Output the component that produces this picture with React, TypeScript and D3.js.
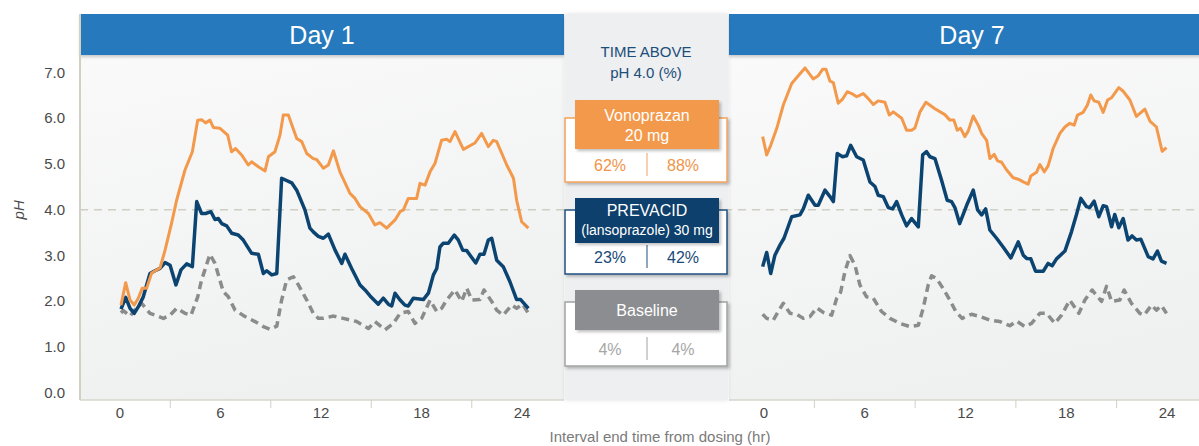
import * as d3 from 'd3'

const W = 1199, H = 446

// [hour, pH]
const day1Vonoprazan: [number, number][] = [
  [0.06, 1.92], [0.34, 2.41], [0.6, 2.03], [0.85, 1.92], [1.09, 2.07], [1.33, 2.29], [1.59, 2.29],
  [1.89, 2.62], [2.39, 2.73], [2.69, 3.12], [3.08, 3.71], [3.38, 4.21], [3.88, 4.87], [4.32, 5.27],
  [4.64, 5.96], [4.87, 5.97], [5.11, 5.9], [5.37, 5.96], [5.57, 5.8], [5.97, 5.78], [6.43, 5.63],
  [6.66, 5.27], [6.9, 5.34], [7.26, 5.2], [7.66, 4.98], [7.86, 5.05], [8.26, 4.94], [8.66, 4.85],
  [8.86, 5.16], [9.25, 5.27], [9.55, 5.63], [9.75, 6.07], [10.05, 6.07], [10.55, 5.56], [10.85, 5.49],
  [11.15, 5.23], [11.54, 5.12], [11.74, 5.1], [12.14, 4.91], [12.44, 4.98], [12.74, 5.29], [13.13, 4.83],
  [13.73, 4.36], [14.03, 4.25], [14.33, 4.07], [14.83, 3.92], [15.22, 3.67], [15.52, 3.72], [15.92, 3.6],
  [16.42, 3.78], [16.72, 3.96], [16.92, 4.0], [17.21, 4.25], [17.71, 4.25], [17.91, 4.58], [18.21, 4.54],
  [18.51, 4.83], [18.81, 5.02], [19.2, 5.52], [19.5, 5.54], [19.7, 5.49], [20.0, 5.71], [20.5, 5.32],
  [21.19, 5.46], [21.59, 5.67], [21.99, 5.38], [22.29, 5.52], [22.49, 5.49], [23.09, 4.98], [23.49, 4.69],
  [23.68, 4.21], [23.98, 3.74], [24.38, 3.6],
]

const day1Prevacid: [number, number][] = [
  [0.06, 1.83], [0.34, 2.09], [0.6, 1.85], [0.85, 1.74], [1.09, 1.88], [1.39, 2.1], [1.79, 2.61],
  [2.09, 2.67], [2.39, 2.72], [2.69, 2.85], [2.99, 2.79], [3.34, 2.36], [3.64, 2.69], [3.98, 2.82],
  [4.32, 2.76], [4.58, 4.18], [4.87, 3.92], [5.11, 3.92], [5.43, 3.96], [5.67, 3.79], [5.87, 3.81],
  [6.07, 3.7], [6.37, 3.65], [6.67, 3.49], [7.06, 3.45], [7.36, 3.34], [7.86, 3.05], [8.26, 3.03],
  [8.56, 2.61], [8.76, 2.67], [9.06, 2.58], [9.36, 2.61], [9.65, 4.69], [10.25, 4.59], [10.55, 4.43],
  [11.04, 4.0], [11.34, 3.6], [11.54, 3.52], [11.84, 3.42], [12.14, 3.38], [12.44, 3.47], [12.84, 3.12],
  [13.24, 2.83], [13.43, 3.03], [13.83, 2.72], [14.33, 2.36], [14.63, 2.25], [14.93, 2.12], [15.42, 1.94],
  [15.72, 2.07], [16.02, 1.94], [16.22, 1.9], [16.42, 2.18], [16.72, 2.03], [17.01, 1.92], [17.21, 1.9],
  [17.51, 2.07], [18.11, 2.04], [18.41, 2.18], [18.71, 2.58], [18.91, 2.72], [19.1, 3.19], [19.3, 3.27],
  [19.6, 3.27], [19.96, 3.45], [20.2, 3.34], [20.46, 3.12], [20.7, 3.11], [20.9, 3.01], [21.24, 2.84],
  [21.49, 3.03], [21.73, 3.03], [21.99, 3.34], [22.19, 3.38], [22.49, 2.9], [22.88, 2.76], [23.28, 2.43],
  [23.68, 2.04], [23.92, 2.04], [24.38, 1.85],
]

const day1Baseline: [number, number][] = [
  [0.06, 1.75], [0.2, 1.8], [0.6, 1.68], [0.85, 1.8], [1.29, 1.96], [1.79, 1.74], [2.09, 1.7],
  [2.59, 1.63], [2.99, 1.7], [3.38, 1.85], [3.88, 1.74], [4.24, 1.7], [4.64, 2.1], [4.87, 2.47],
  [5.07, 2.69], [5.37, 3.03], [5.67, 2.83], [6.17, 2.21], [6.47, 2.1], [6.87, 1.81], [7.46, 1.67],
  [8.06, 1.56], [8.56, 1.45], [8.96, 1.39], [9.36, 1.46], [9.65, 2.03], [9.95, 2.47], [10.35, 2.54],
  [10.65, 2.36], [11.15, 2.03], [11.54, 1.74], [11.84, 1.63], [12.14, 1.63], [12.74, 1.68], [13.33, 1.63],
  [14.13, 1.56], [14.83, 1.41], [15.22, 1.56], [15.82, 1.38], [16.32, 1.52], [16.72, 1.74], [17.21, 1.78],
  [17.61, 1.52], [18.01, 1.63], [18.51, 2.03], [18.91, 1.78], [19.2, 1.85], [19.5, 2.03], [20.0, 2.25],
  [20.4, 2.0], [20.7, 2.29], [21.0, 2.03], [21.49, 2.04], [21.73, 2.25], [22.19, 2.0], [22.49, 1.81],
  [22.88, 1.7], [23.38, 1.92], [23.68, 1.85], [24.04, 1.94], [24.38, 1.74],
]

const day7Vonoprazan: [number, number][] = [
  [-0.08, 5.6], [0.16, 5.2], [0.4, 5.41], [0.76, 5.78], [1.15, 6.29], [1.65, 6.76], [2.04, 6.93],
  [2.44, 7.1], [2.93, 6.86], [3.23, 6.93], [3.49, 7.07], [3.69, 7.07], [3.93, 6.81], [4.13, 6.78],
  [4.42, 6.33], [4.68, 6.42], [4.96, 6.58], [5.22, 6.54], [5.52, 6.47], [5.91, 6.54], [6.21, 6.43],
  [6.51, 6.3], [6.8, 6.38], [7.2, 6.35], [7.46, 6.07], [7.7, 6.14], [8.2, 6.0], [8.49, 5.74],
  [8.79, 5.74], [8.99, 5.79], [9.29, 6.14], [9.64, 6.35], [10.18, 6.21], [10.77, 6.08], [11.07, 5.96],
  [11.31, 5.96], [11.51, 5.74], [11.71, 5.78], [11.96, 5.6], [12.16, 5.72], [12.46, 6.05], [12.76, 5.85],
  [12.96, 5.67], [13.26, 5.52], [13.45, 5.12], [13.71, 5.21], [13.91, 5.07], [14.15, 5.04], [14.45, 4.87],
  [14.84, 4.7], [15.14, 4.67], [15.44, 4.61], [15.73, 4.56], [15.89, 4.74], [16.23, 4.82], [16.43, 4.99],
  [16.69, 4.83], [16.92, 4.96], [17.22, 5.34], [17.62, 5.67], [17.92, 5.81], [18.21, 5.89], [18.47, 5.85],
  [18.67, 6.07], [19.01, 6.13], [19.26, 6.29], [19.46, 6.51], [19.66, 6.38], [19.94, 6.35], [20.2, 6.13],
  [20.46, 6.4], [20.7, 6.45], [21.13, 6.67], [21.39, 6.59], [21.79, 6.4], [22.18, 6.04], [22.68, 6.2],
  [22.98, 5.94], [23.37, 5.81], [23.71, 5.28], [23.97, 5.36],
]

const day7Prevacid: [number, number][] = [
  [-0.08, 2.76], [0.16, 3.07], [0.4, 2.61], [0.65, 3.01], [0.95, 3.23], [1.19, 3.38], [1.65, 3.85],
  [2.14, 3.89], [2.34, 4.02], [2.64, 4.32], [3.04, 4.1], [3.23, 4.1], [3.63, 4.43], [3.93, 4.29],
  [4.13, 4.18], [4.36, 5.23], [4.68, 5.16], [4.92, 5.18], [5.16, 5.41], [5.52, 5.16], [5.91, 5.09],
  [6.31, 4.61], [6.61, 4.51], [6.8, 4.32], [7.1, 4.29], [7.4, 4.05], [7.66, 4.02], [7.9, 4.18],
  [8.2, 3.89], [8.49, 3.65], [8.79, 3.81], [9.19, 3.63], [9.45, 5.2], [9.68, 5.27], [9.88, 5.16],
  [10.18, 5.12], [10.57, 4.65], [10.91, 4.21], [11.17, 4.18], [11.37, 4.05], [11.65, 3.7], [12.07, 4.1],
  [12.46, 4.43], [12.72, 4.0], [12.96, 3.89], [13.2, 4.02], [13.45, 3.56], [13.85, 3.38], [14.24, 3.19],
  [14.7, 2.95], [15.14, 3.3], [15.44, 3.01], [15.64, 2.94], [15.89, 2.93], [16.17, 2.66], [16.63, 2.66],
  [16.92, 2.83], [17.16, 2.78], [17.42, 2.93], [17.92, 3.1], [18.31, 3.52], [18.61, 3.9], [18.87, 4.25],
  [19.21, 4.07], [19.4, 4.05], [19.66, 4.19], [19.94, 3.85], [20.2, 4.09], [20.4, 4.07], [20.7, 3.63],
  [20.89, 3.9], [21.13, 3.61], [21.39, 3.81], [21.68, 3.34], [21.92, 3.43], [22.18, 3.34], [22.44, 3.36],
  [22.88, 2.98], [23.17, 2.93], [23.43, 3.1], [23.67, 2.88], [23.97, 2.83],
]

const day7Baseline: [number, number][] = [
  [-0.08, 1.72], [0.16, 1.63], [0.55, 1.59], [0.85, 1.78], [1.15, 1.96], [1.55, 1.74], [1.95, 1.72],
  [2.34, 1.63], [2.74, 1.67], [3.14, 1.86], [3.53, 1.76], [4.03, 1.7], [4.33, 2.07], [4.56, 2.2],
  [4.82, 2.65], [5.12, 3.0], [5.42, 2.79], [5.71, 2.36], [6.11, 2.1], [6.51, 2.07], [7.0, 1.78],
  [7.5, 1.63], [8.1, 1.52], [8.69, 1.45], [9.19, 1.48], [9.48, 1.85], [9.78, 2.36], [9.98, 2.56],
  [10.28, 2.5], [10.67, 2.28], [11.07, 2.03], [11.42, 1.78], [11.8, 1.63], [12.36, 1.72], [12.86, 1.67],
  [13.45, 1.59], [14.05, 1.56], [14.64, 1.47], [15.04, 1.57], [15.54, 1.45], [15.93, 1.52], [16.43, 1.74],
  [16.83, 1.74], [17.32, 1.52], [17.72, 1.7], [18.21, 2.03], [18.75, 1.74], [19.11, 2.03], [19.54, 2.25],
  [20.1, 2.0], [20.4, 2.33], [20.7, 2.0], [21.19, 2.03], [21.45, 2.25], [21.88, 1.96], [22.38, 1.74],
  [22.64, 1.7], [23.08, 1.92], [23.37, 1.81], [23.67, 1.91], [23.97, 1.74],
]

const yTicks = [0, 1, 2, 3, 4, 5, 6, 7]
const xLabelTicks = [0, 6, 12, 18, 24]
const xMinorTicks = [3, 9, 15, 21]
const panelTitles = ['Day 1', 'Day 7']

// legend groups: label lines, Day 1 %, Day 7 %
const legendNames = [['Vonoprazan', '20 mg'], ['PREVACID', '(lansoprazole) 30 mg'], ['Baseline']]
const day1Above = ['62%', '23%', '4%']
const day7Above = ['88%', '42%', '4%']

const ORANGE = '#f3994b', NAVY = '#0c4471', GREY = '#8b8b8b'
const FONT = 'Liberation Sans, Arial, sans-serif'

const yScale = d3.scaleLinear().domain([0, 7]).range([393, 72.5])
const panels = [
  { title: panelTitles[0], x0: 80, x1: 564, hx1: 564, x: d3.scaleLinear().domain([0, 24]).range([120, 522]), data: [day1Baseline, day1Prevacid, day1Vonoprazan] },
  { title: panelTitles[1], x0: 729, x1: 1199, hx1: 1215, x: d3.scaleLinear().domain([0, 24]).range([764, 1167]), data: [day7Baseline, day7Prevacid, day7Vonoprazan] },
]
const seriesStyle = [
  { stroke: GREY, width: 3.5, dash: '8,5' },
  { stroke: NAVY, width: 3.5, dash: undefined },
  { stroke: ORANGE, width: 3, dash: undefined },
]

const Panel = ({ p }: { p: typeof panels[0] }) => (
  <g>
    <rect x={p.x0} y={55} width={p.x1 - p.x0} height={345} fill='url(#plotBg)' />
    <rect x={p.x0} y={14} width={p.hx1 - p.x0} height={41} fill='#2879bd' filter='url(#hdrShadow)' />
    <text x={(p.x0 + p.hx1) / 2} y={44} textAnchor='middle' fill='#fff' fontSize={25} fontFamily={FONT}>{p.title}</text>
    <line x1={p.x0} x2={p.x1} y1={400} y2={400} stroke='#d6d6cc' strokeWidth={1.5} />
    {xMinorTicks.map(t => (
      <line key={t} x1={p.x(t)} x2={p.x(t)} y1={400} y2={408} stroke='#d0d0c6' strokeWidth={1} />
    ))}
    {xLabelTicks.map(t => (
      <text key={t} x={p.x(t)} y={418} textAnchor='middle' fill='#4a4a4a' fontSize={15} fontFamily={FONT}>{t}</text>
    ))}
  </g>
)

const Lines = ({ p }: { p: typeof panels[0] }) => {
  const line = d3.line<[number, number]>().x(d => p.x(d[0])).y(d => yScale(d[1]))
  return (
    <g>
      {p.data.map((d, i) => (
        <path key={i} d={line(d) || ''} fill='none' stroke={seriesStyle[i].stroke}
          strokeWidth={seriesStyle[i].width} strokeDasharray={seriesStyle[i].dash}
          strokeLinejoin='round' />
      ))}
    </g>
  )
}

const Legend = () => {
  const fills = [ORANGE, '#0b416c', '#8c8d90']
  const strokes = ['#f4a25c', '#20507f', '#a2a2a2']
  const valColors = ['#f0944a', '#1b4a78', '#a6a6a6']
  const fillTop = [100, 198, 290], fillH = [49, 45, 40]
  const outTop = [118, 210, 302]
  const nameY = [[121, 141], [216, 235], [316]]
  const nameSize = [[16, 16], [16, 14], [16]]
  const valY = [171, 263, 355]
  return (
    <g fontFamily={FONT}>
      <rect x={565} y={14} width={163} height={386} fill='#edeff0' filter='url(#panelShadow)' />
      <text x={646} y={57} textAnchor='middle' fill='#1c4d7b' fontSize={15}>TIME ABOVE</text>
      <text x={646} y={78} textAnchor='middle' fill='#1c4d7b' fontSize={15}>pH 4.0 (%)</text>
      {legendNames.map((names, i) => (
        <g key={i}>
          <rect x={565} y={outTop[i]} width={162} height={64} fill='#fff' stroke={strokes[i]} strokeWidth={1.5} filter='url(#boxShadow)' />
          <rect x={575} y={fillTop[i]} width={144} height={fillH[i]} fill={fills[i]} filter='url(#boxShadow)' />
          {names.map((n, j) => (
            <text key={j} x={647} y={nameY[i][j]} textAnchor='middle' fill='#fff' fontSize={nameSize[i][j]}>{n}</text>
          ))}
          <line x1={647} x2={647} y1={valY[i] - 18} y2={valY[i] + 5} stroke={strokes[i]} strokeWidth={1} />
          <text x={610} y={valY[i]} textAnchor='middle' fill={valColors[i]} fontSize={16}>{day1Above[i]}</text>
          <text x={683} y={valY[i]} textAnchor='middle' fill={valColors[i]} fontSize={16}>{day7Above[i]}</text>
        </g>
      ))}
    </g>
  )
}

export default function App() {
  return (
    <svg width={W} height={H} style={{ position: 'absolute', left: 0, top: 0, background: '#fff' }}>
      <defs>
        <linearGradient id='plotBg' x1='0' y1='0' x2='0.3' y2='1'>
          <stop offset='0' stopColor='#fafafa' />
          <stop offset='1' stopColor='#eff0f0' />
        </linearGradient>
        <filter id='hdrShadow' x='-5%' y='-20%' width='110%' height='160%'>
          <feDropShadow dx={0} dy={2} stdDeviation={1.5} floodColor='#000' floodOpacity={0.2} />
        </filter>
        <filter id='boxShadow' x='-10%' y='-20%' width='130%' height='150%'>
          <feDropShadow dx={2} dy={2} stdDeviation={1.5} floodColor='#000' floodOpacity={0.25} />
        </filter>
        <filter id='panelShadow' x='-10%' y='-5%' width='120%' height='110%'>
          <feDropShadow dx={0} dy={0} stdDeviation={2} floodColor='#000' floodOpacity={0.12} />
        </filter>
      </defs>
      {panels.map(p => <Panel key={p.title} p={p} />)}
      <line x1={80} x2={80} y1={14} y2={400} stroke='#d0d0c4' strokeWidth={2} />
      <line x1={80} x2={W} y1={yScale(4)} y2={yScale(4)} stroke='#cfcfc4' strokeWidth={1.5} strokeDasharray='8,6' />
      {panels.map(p => <Lines key={p.title} p={p} />)}
      <Legend />
      {yTicks.map(t => (
        <text key={t} x={65} y={yScale(t) + 5} textAnchor='end' fill='#4a4a4a' fontSize={15} fontFamily={FONT}>{t.toFixed(1)}</text>
      ))}
      <text transform={`translate(24, ${yScale(4)}) rotate(-90)`} textAnchor='middle' fill='#4a4a4a'
        fontSize={15} fontStyle='italic' fontFamily={FONT}>pH</text>
      <text x={660} y={442} textAnchor='middle' fill='#7a7a7a' fontSize={15} fontFamily={FONT}>Interval end time from dosing (hr)</text>
    </svg>
  )
}
